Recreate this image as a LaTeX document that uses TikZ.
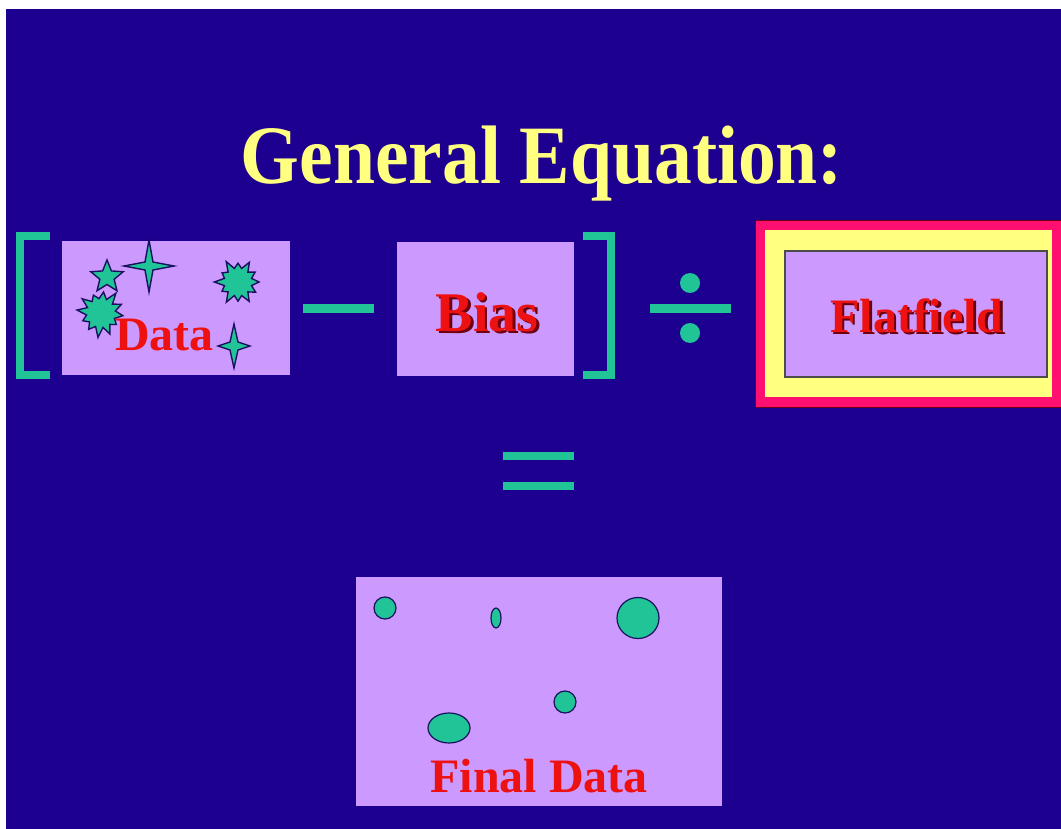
\documentclass[tikz,border=0pt]{standalone}
\usepackage{fontspec}
\setmainfont{Liberation Serif}
\definecolor{bgblue}{HTML}{1E0090}
\definecolor{lilac}{HTML}{CC99FF}
\definecolor{tealc}{HTML}{20C496}
\definecolor{ttlyellow}{HTML}{FFFF80}
\definecolor{txtred}{HTML}{EE1111}
\definecolor{shadowred}{HTML}{6A0010}
\definecolor{pinkframe}{HTML}{FF1070}
\definecolor{starline}{HTML}{1A1060}
\newcommand\mkfourstar[4]{%
  \draw[starsty] (#1,#2) +(0,-#4) -- +(4,-4) -- +(#3,0) -- +(4,4)
    -- +(0,#4) -- +(-4,4) -- +(-#3,0) -- +(-4,-4) -- cycle;}
\newcommand\shadowed[1]{\makebox[0pt][l]{\hspace{2.5pt}\raisebox{-2.5pt}{\color{shadowred}#1}}{\color{txtred}#1}}
\begin{document}
\begin{tikzpicture}[x=1pt,y=-1pt,
  box/.style={fill=lilac, inner sep=0pt, outer sep=0pt},
  bar/.style={fill=tealc},
  bracketsty/.style={draw=tealc, line width=8.5pt, miter limit=10},
  starsty/.style={fill=tealc, draw=starline, line width=1.4pt, line join=miter},
  dotsty/.style={fill=tealc, draw=starline, line width=1.2pt},
  redtxt/.style={text=txtred, font=\fontsize{48}{52}\selectfont\bfseries, inner sep=0pt},
  title/.style={text=ttlyellow, font=\fontsize{83}{90}\selectfont\bfseries, inner sep=0pt}]
\useasboundingbox (0,0) rectangle (1061,829);
\fill[white] (0,0) rectangle (1061,829);
\fill[bgblue] (6,9) rectangle (1061,829);

% title
\node[title, anchor=base] (title) at (542,184) {\scalebox{0.91}[1]{General Equation:}};

% left bracket
\draw[bracketsty] (50,236) -- (20,236) -- (20,375) -- (50,375);

% Data box
\node[box, minimum width=228pt, minimum height=134pt] (data) at (175.5,308) {};
\draw[starsty, shift={(107,277)}] plot[samples at={0,...,9}, variable=\k]
  ({-90+36*\k}:{ifthenelse(mod(\k,2)==0,17,7.5)}) -- cycle;
\mkfourstar{149}{266}{25}{26}
\draw[starsty, shift={(238,282)}] plot[samples at={0,...,23}, variable=\k]
  ({\k*15}:{ifthenelse(mod(\k,2)==0,21*(1+0.13*sin(\k*97)),14)}) -- cycle;
\draw[starsty, shift={(101,313)}] plot[samples at={0,...,23}, variable=\k]
  ({\k*15+7}:{ifthenelse(mod(\k,2)==0,22*(1+0.13*sin(\k*131)),14.5)}) -- cycle;
\mkfourstar{234}{346}{16}{22}
\node[redtxt, anchor=base west] (datatxt) at (115,350) {Data};

% minus
\node[bar, minimum width=71pt, minimum height=9pt, inner sep=0pt] (minus) at (338.5,308.5) {};

% Bias box
\node[box, minimum width=177pt, minimum height=134pt] (bias) at (485.5,309) {};
\node[redtxt, anchor=base, font=\fontsize{56}{60}\selectfont\bfseries] (biastxt) at (487,331) {\shadowed{Bias}};

% right bracket
\draw[bracketsty] (583,236) -- (611,236) -- (611,375) -- (583,375);

% divide
\node[bar, minimum width=81pt, minimum height=9pt, inner sep=0pt] (divline) at (690.5,308.5) {};
\node[circle, fill=tealc, minimum size=20pt, inner sep=0pt] (dottop) at (690,283) {};
\node[circle, fill=tealc, minimum size=20pt, inner sep=0pt] (dotbot) at (690,333) {};

% Flatfield frame
\filldraw[fill=pinkframe, draw=shadowred, line width=0.8pt] (755,220) rectangle (1068,407);
\fill[ttlyellow] (765,230) rectangle (1052,397);
\node[box, draw=black!70, line width=1.5pt, minimum width=262pt, minimum height=126pt] (flat) at (916,314) {};
\node[redtxt, anchor=base] (flattxt) at (917,332) {\shadowed{Flatfield}};

% equals
\node[bar, minimum width=71pt, minimum height=8pt, inner sep=0pt] (eqtop) at (538.5,456) {};
\node[bar, minimum width=71pt, minimum height=8pt, inner sep=0pt] (eqbot) at (538.5,486) {};

% Final data box
\node[box, minimum width=366pt, minimum height=229pt] (final) at (539,691.5) {};
\draw[dotsty] (385,608) circle (11);
\draw[dotsty] (496,618) ellipse (5 and 10);
\draw[dotsty] (638,618) ellipse (21 and 20.5);
\draw[dotsty] (565,702) circle (11);
\draw[dotsty] (449,728) ellipse (21 and 15);
\node[redtxt, anchor=base] (finaltxt) at (539,792) {Final Data};
\end{tikzpicture}
\end{document}
